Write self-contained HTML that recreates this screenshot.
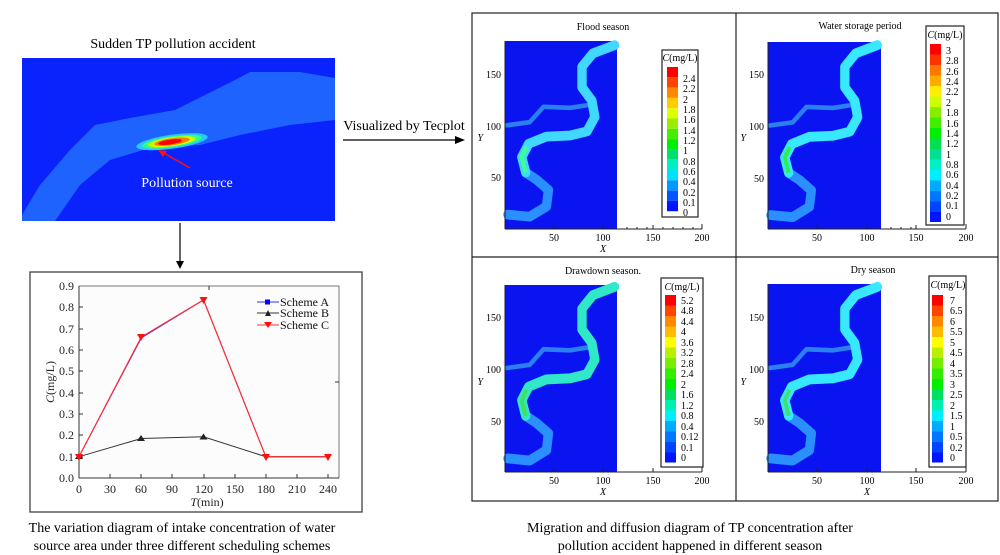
<!DOCTYPE html>
<html><head><meta charset="utf-8"><style>
html,body{margin:0;padding:0;background:#fff;}
svg{display:block;font-family:"Liberation Serif",serif;}
</style></head><body>
<svg width="1000" height="555" viewBox="0 0 1000 555" xmlns="http://www.w3.org/2000/svg">
<defs>
  <g id="riverLow">
    <polyline points="3,14 25,12 42,22 44,38 32,48 21,55" fill="none" stroke-width="9.5" stroke-linejoin="round" stroke-linecap="round"/>
  </g>
  <g id="trib">
    <polyline points="2,101 25,104 39,119 66,118 86,121" fill="none" stroke-width="4.5" stroke-linejoin="round" stroke-linecap="round"/>
  </g>
  <g id="riverUp">
    <polyline points="21,55 17,70 24,83 42,90 66,91 83,95 91,109 88,125 78,138 78,158 89,171 111,179" fill="none" stroke-width="9.5" stroke-linejoin="round" stroke-linecap="round"/>
  </g>
  <g id="yt" stroke="#222"><line x1="0" y1="0" x2="4" y2="0"/></g>
</defs>

<!-- Top-left image -->
<text x="173" y="48" font-size="14" text-anchor="middle">Sudden TP pollution accident</text>
<rect x="22" y="58" width="313" height="163" fill="#0a22fb"/>
<polygon points="22,221 22,215 40,185 70,150 95,125 130,118 175,110 235,80 250,72 300,72 335,78 335,120 290,125 240,135 200,145 150,148 110,160 80,185 55,221" fill="#1f63ff"/>
<g transform="rotate(-8 170 142)">
<ellipse cx="172" cy="142" rx="36" ry="7" fill="#28c8ff"/>
<ellipse cx="172" cy="142" rx="30" ry="5.5" fill="#30ff80"/>
<ellipse cx="172" cy="142" rx="24" ry="4.5" fill="#d0ff00"/>
<ellipse cx="172" cy="142" rx="18" ry="3.5" fill="#ff8000"/>
<ellipse cx="170" cy="142" rx="12" ry="2.5" fill="#ff0000"/>
</g>
<line x1="190" y1="168" x2="162" y2="152" stroke="#ff1010" stroke-width="1.5"/>
<polygon points="158,150 167,151 163,157" fill="#ff1010"/>
<text x="187" y="187" font-size="14" fill="#fff" text-anchor="middle">Pollution source</text>

<!-- arrows -->
<line x1="180" y1="223" x2="180" y2="264" stroke="#000" stroke-width="1.2"/>
<polygon points="176,261 184,261 180,269" fill="#000"/>
<text x="404" y="130" font-size="14" text-anchor="middle">Visualized by Tecplot</text>
<line x1="343" y1="140" x2="460" y2="140" stroke="#000" stroke-width="1.2"/>
<polygon points="455,136 465,140 455,144" fill="#000"/>

<!-- Left chart -->
<rect x="30" y="272" width="332" height="240" fill="#fff" stroke="#333" stroke-width="1.2"/>
<rect x="79" y="286" width="260" height="192" fill="#fcfcfc" stroke="#555" stroke-width="0.8"/>
<g stroke="#333" stroke-width="1">
<line x1="79" y1="286" x2="79" y2="478"/><line x1="79" y1="478" x2="339" y2="478"/>
</g>
<g font-size="12" text-anchor="end" fill="#222">
<text x="74" y="482">0.0</text><text x="74" y="461">0.1</text><text x="74" y="439">0.2</text><text x="74" y="418">0.3</text><text x="74" y="397">0.4</text><text x="74" y="375">0.5</text><text x="74" y="354">0.6</text><text x="74" y="333">0.7</text><text x="74" y="311">0.8</text><text x="74" y="290">0.9</text>
</g>
<g stroke="#333" stroke-width="1">
<line x1="79" y1="457" x2="83" y2="457"/><line x1="79" y1="435" x2="83" y2="435"/><line x1="79" y1="414" x2="83" y2="414"/><line x1="79" y1="393" x2="83" y2="393"/><line x1="79" y1="371" x2="83" y2="371"/><line x1="79" y1="350" x2="83" y2="350"/><line x1="79" y1="329" x2="83" y2="329"/><line x1="79" y1="307" x2="83" y2="307"/>
<line x1="110" y1="478" x2="110" y2="474"/><line x1="141" y1="478" x2="141" y2="474"/><line x1="172" y1="478" x2="172" y2="474"/><line x1="204" y1="478" x2="204" y2="474"/><line x1="235" y1="478" x2="235" y2="474"/><line x1="266" y1="478" x2="266" y2="474"/><line x1="297" y1="478" x2="297" y2="474"/><line x1="328" y1="478" x2="328" y2="474"/>
<line x1="209" y1="286" x2="209" y2="290"/><line x1="339" y1="382" x2="335" y2="382"/>
</g>
<g font-size="12" text-anchor="middle" fill="#222">
<text x="79" y="493">0</text><text x="110" y="493">30</text><text x="141" y="493">60</text><text x="172" y="493">90</text><text x="204" y="493">120</text><text x="235" y="493">150</text><text x="266" y="493">180</text><text x="297" y="493">210</text><text x="328" y="493">240</text>
<text x="207" y="506"><tspan font-style="italic">T</tspan>(min)</text>
<text x="0" y="0" transform="translate(54 382) rotate(-90)"><tspan font-style="italic">C</tspan>(mg/L)</text>
</g>
<polyline points="79,456.7 141.3,338 203.5,299.9 265.8,456.7 328,456.7" fill="none" stroke="#3030ff" stroke-width="1"/>
<polyline points="79,456.7 141.3,438.5 203.5,436.8 265.8,456.7 328,456.7" fill="none" stroke="#333" stroke-width="1"/>
<polyline points="79,456.7 141.3,337 203.5,299.9 265.8,456.7 328,456.7" fill="none" stroke="#ff3030" stroke-width="1.2"/>
<g fill="#222"><polygon points="141,435 145,441 137,441"/><polygon points="203.5,433.5 207.5,439.5 199.5,439.5"/><polygon points="79,453 83,459 75,459"/></g>
<g fill="#ff1010">
<polygon points="137,334 145,334 141,341"/><polygon points="199.5,297 207.5,297 203.5,304"/><polygon points="75,454 83,454 79,461"/><polygon points="262,454 270,454 266,461"/><polygon points="324,454 332,454 328,461"/>
</g>
<line x1="257" y1="302" x2="279" y2="302" stroke="#3030ff"/><rect x="265" y="299.5" width="5" height="5" fill="#0000ff"/>
<line x1="257" y1="313" x2="279" y2="313" stroke="#333"/><polygon points="268,310 271,316 265,316" fill="#222"/>
<line x1="257" y1="325" x2="279" y2="325" stroke="#ff3030"/><polygon points="264,322 272,322 268,328" fill="#ff1010"/>
<g font-size="12" fill="#111"><text x="280" y="306">Scheme A</text><text x="280" y="317">Scheme B</text><text x="280" y="329">Scheme C</text></g>

<text x="182" y="532" font-size="14" text-anchor="middle">The variation diagram of intake concentration of water</text>
<text x="182" y="550" font-size="14" text-anchor="middle">source area under three different scheduling schemes</text>
<text x="690" y="532" font-size="14" text-anchor="middle">Migration and diffusion diagram of TP concentration after</text>
<text x="690" y="550" font-size="14" text-anchor="middle">pollution accident happened in different season</text>

<!-- Right panels frame -->
<rect x="472" y="13" width="526" height="488" fill="none" stroke="#222" stroke-width="1.2"/>
<line x1="736" y1="13" x2="736" y2="501" stroke="#222" stroke-width="1.2"/>
<line x1="472" y1="257" x2="998" y2="257" stroke="#222" stroke-width="1.2"/>

<!-- Panel TL -->
<g>
<text x="603" y="30" font-size="10" text-anchor="middle">Flood season</text>
<rect x="505" y="41" width="112" height="188" fill="#0a14f0"/>
<g transform="translate(505 229) scale(0.987 -1.027)">
<use href="#trib" stroke="#2a80f0"/><use href="#riverLow" stroke="#2a90ff"/><use href="#riverUp" stroke="#40d8ff"/>
<polyline points="21,55 17,70 22,80" fill="none" stroke="#40ff90" stroke-width="4"/>
</g>
<line x1="505" y1="229" x2="702" y2="229" stroke="#222"/><line x1="505" y1="41" x2="505" y2="229" stroke="#222"/>
<g stroke="#222"><line x1="554" y1="229" x2="554" y2="225"/><line x1="603" y1="229" x2="603" y2="225"/><line x1="653" y1="229" x2="653" y2="225"/><line x1="702" y1="229" x2="702" y2="224"/>
<line x1="627" y1="229" x2="627" y2="227"/><line x1="637" y1="229" x2="637" y2="227"/><line x1="647" y1="229" x2="647" y2="227"/><line x1="663" y1="229" x2="663" y2="227"/><line x1="673" y1="229" x2="673" y2="227"/><line x1="683" y1="229" x2="683" y2="227"/><line x1="693" y1="229" x2="693" y2="227"/></g>
<g font-size="10" text-anchor="middle"><text x="554" y="241">50</text><text x="603" y="241">100</text><text x="653" y="241">150</text><text x="702" y="241">200</text><text x="603" y="252" font-style="italic">X</text></g>
<g font-size="10" text-anchor="end"><text x="501" y="78">150</text><text x="501" y="130">100</text><text x="501" y="181">50</text><text x="483" y="141" font-style="italic">Y</text></g>
</g>

<!-- Panel TR -->
<g>
<text x="860" y="29" font-size="10" text-anchor="middle">Water storage period</text>
<rect x="768" y="42" width="113" height="187" fill="#0a14f0"/>
<g transform="translate(768 229.5) scale(0.985 -1.03)">
<use href="#trib" stroke="#2a80f0"/><use href="#riverLow" stroke="#2a90ff"/><use href="#riverUp" stroke="#38e8ff"/>
<polyline points="21,55 17,70 22,80" fill="none" stroke="#30ee50" stroke-width="4"/>
</g>
<line x1="768" y1="229" x2="966" y2="229" stroke="#222"/><line x1="768" y1="42" x2="768" y2="229" stroke="#222"/>
<g stroke="#222"><line x1="817" y1="229" x2="817" y2="225"/><line x1="867" y1="229" x2="867" y2="225"/><line x1="916" y1="229" x2="916" y2="225"/><line x1="966" y1="229" x2="966" y2="224"/>
<line x1="891" y1="229" x2="891" y2="227"/><line x1="901" y1="229" x2="901" y2="227"/><line x1="911" y1="229" x2="911" y2="227"/></g>
<g font-size="10" text-anchor="middle"><text x="817" y="241">50</text><text x="867" y="241">100</text><text x="916" y="241">150</text><text x="966" y="241">200</text></g>
<g font-size="10" text-anchor="end"><text x="764" y="78">150</text><text x="764" y="130">100</text><text x="764" y="182">50</text><text x="746" y="141" font-style="italic">Y</text></g>
</g>

<!-- Panel BL -->
<g>
<text x="603" y="274" font-size="10" text-anchor="middle">Drawdown season.</text>
<rect x="505" y="285" width="112" height="187" fill="#0a14f0"/>
<g transform="translate(505 473) scale(0.987 -1.04)">
<use href="#trib" stroke="#2a80f0"/><use href="#riverLow" stroke="#2a90ff"/><use href="#riverUp" stroke="#30e8c8"/>
<polyline points="21,55 17,70 22,80" fill="none" stroke="#40e060" stroke-width="4"/>
</g>
<line x1="505" y1="472" x2="702" y2="472" stroke="#222"/><line x1="505" y1="285" x2="505" y2="472" stroke="#222"/>
<g stroke="#222"><line x1="554" y1="472" x2="554" y2="468"/><line x1="603" y1="472" x2="603" y2="468"/><line x1="653" y1="472" x2="653" y2="468"/><line x1="702" y1="472" x2="702" y2="467"/></g>
<g font-size="10" text-anchor="middle"><text x="554" y="484">50</text><text x="603" y="484">100</text><text x="653" y="484">150</text><text x="702" y="484">200</text><text x="603" y="495" font-style="italic">X</text></g>
<g font-size="10" text-anchor="end"><text x="501" y="321">150</text><text x="501" y="373">100</text><text x="501" y="425">50</text><text x="483" y="385" font-style="italic">Y</text></g>
</g>

<!-- Panel BR -->
<g>
<text x="873" y="273" font-size="10" text-anchor="middle">Dry season</text>
<rect x="768" y="284" width="113" height="188" fill="#0a14f0"/>
<g transform="translate(768 473) scale(0.985 -1.04)">
<use href="#trib" stroke="#2a80f0"/><use href="#riverLow" stroke="#2a90ff"/><use href="#riverUp" stroke="#38e8ff"/>
<polyline points="21,55 17,70 22,80" fill="none" stroke="#40e070" stroke-width="4"/>
</g>
<line x1="768" y1="472" x2="966" y2="472" stroke="#222"/><line x1="768" y1="284" x2="768" y2="472" stroke="#222"/>
<g stroke="#222"><line x1="817" y1="472" x2="817" y2="468"/><line x1="867" y1="472" x2="867" y2="468"/><line x1="916" y1="472" x2="916" y2="468"/><line x1="966" y1="472" x2="966" y2="467"/></g>
<g font-size="10" text-anchor="middle"><text x="817" y="484">50</text><text x="867" y="484">100</text><text x="916" y="484">150</text><text x="966" y="484">200</text><text x="867" y="495" font-style="italic">X</text></g>
<g font-size="10" text-anchor="end"><text x="764" y="321">150</text><text x="764" y="373">100</text><text x="764" y="425">50</text><text x="746" y="385" font-style="italic">Y</text></g>
</g>

<!-- Legends -->
<g>
<rect x="662" y="50" width="36" height="167" fill="#fff" stroke="#222" stroke-width="1.2"/>
<text x="680" y="61" font-size="10" text-anchor="middle"><tspan font-style="italic">C</tspan>(mg/L)</text>
<g>
<rect x="667" y="67" width="11" height="10.3" fill="#ff0000"/><rect x="667" y="77.3" width="11" height="10.3" fill="#ff4400"/><rect x="667" y="87.6" width="11" height="10.3" fill="#ff8800"/><rect x="667" y="97.9" width="11" height="10.3" fill="#ffcc00"/><rect x="667" y="108.2" width="11" height="10.3" fill="#ddff00"/><rect x="667" y="118.5" width="11" height="10.3" fill="#99ee00"/><rect x="667" y="128.8" width="11" height="10.3" fill="#44ee00"/><rect x="667" y="139.1" width="11" height="10.3" fill="#00ee00"/><rect x="667" y="149.4" width="11" height="10.3" fill="#00e070"/><rect x="667" y="159.7" width="11" height="10.3" fill="#00f0c0"/><rect x="667" y="170" width="11" height="10.3" fill="#00e0ff"/><rect x="667" y="180.3" width="11" height="10.3" fill="#0099ff"/><rect x="667" y="190.6" width="11" height="10.3" fill="#0055ff"/><rect x="667" y="200.9" width="11" height="10.3" fill="#0014ff"/>
</g>
<g font-size="10"><text x="683" y="82">2.4</text><text x="683" y="92">2.2</text><text x="683" y="103">2</text><text x="683" y="113">1.8</text><text x="683" y="123">1.6</text><text x="683" y="134">1.4</text><text x="683" y="144">1.2</text><text x="683" y="154">1</text><text x="683" y="165">0.8</text><text x="683" y="175">0.6</text><text x="683" y="185">0.4</text><text x="683" y="196">0.2</text><text x="683" y="206">0.1</text><text x="683" y="216">0</text></g>
</g>

<g>
<rect x="926" y="26" width="38" height="199" fill="#fff" stroke="#222" stroke-width="1.2"/>
<text x="945" y="38" font-size="10" text-anchor="middle"><tspan font-style="italic">C</tspan>(mg/L)</text>
<g>
<rect x="930" y="44" width="11" height="10.5" fill="#ff0000"/><rect x="930" y="54.5" width="11" height="10.5" fill="#ff3300"/><rect x="930" y="65" width="11" height="10.5" fill="#ff7700"/><rect x="930" y="75.5" width="11" height="10.5" fill="#ffaa00"/><rect x="930" y="86" width="11" height="10.5" fill="#ffee00"/><rect x="930" y="96.5" width="11" height="10.5" fill="#ccff00"/><rect x="930" y="107" width="11" height="10.5" fill="#88ee00"/><rect x="930" y="117.5" width="11" height="10.5" fill="#44ee00"/><rect x="930" y="128" width="11" height="10.5" fill="#00ee00"/><rect x="930" y="138.5" width="11" height="10.5" fill="#00e050"/><rect x="930" y="149" width="11" height="10.5" fill="#00e090"/><rect x="930" y="159.5" width="11" height="10.5" fill="#00f0c8"/><rect x="930" y="170" width="11" height="10.5" fill="#00eeff"/><rect x="930" y="180.5" width="11" height="10.5" fill="#00aaff"/><rect x="930" y="191" width="11" height="10.5" fill="#0077ff"/><rect x="930" y="201.5" width="11" height="10.5" fill="#0044ff"/><rect x="930" y="212" width="11" height="10" fill="#0014ff"/>
</g>
<g font-size="10"><text x="946" y="54">3</text><text x="946" y="64">2.8</text><text x="946" y="75">2.6</text><text x="946" y="85">2.4</text><text x="946" y="95">2.2</text><text x="946" y="106">2</text><text x="946" y="116">1.8</text><text x="946" y="127">1.6</text><text x="946" y="137">1.4</text><text x="946" y="147">1.2</text><text x="946" y="158">1</text><text x="946" y="168">0.8</text><text x="946" y="178">0.6</text><text x="946" y="189">0.4</text><text x="946" y="199">0.2</text><text x="946" y="209">0.1</text><text x="946" y="220">0</text></g>
</g>

<g>
<rect x="661" y="278" width="42" height="189" fill="#fff" stroke="#222" stroke-width="1.2"/>
<text x="682" y="290" font-size="10" text-anchor="middle"><tspan font-style="italic">C</tspan>(mg/L)</text>
<g>
<rect x="665" y="295" width="11" height="10.5" fill="#ff0000"/><rect x="665" y="305.5" width="11" height="10.5" fill="#ff4400"/><rect x="665" y="316" width="11" height="10.5" fill="#ff8800"/><rect x="665" y="326.5" width="11" height="10.5" fill="#ffbb00"/><rect x="665" y="337" width="11" height="10.5" fill="#ffff00"/><rect x="665" y="347.5" width="11" height="10.5" fill="#bbee00"/><rect x="665" y="358" width="11" height="10.5" fill="#77ee00"/><rect x="665" y="368.5" width="11" height="10.5" fill="#33ee00"/><rect x="665" y="379" width="11" height="10.5" fill="#00ee00"/><rect x="665" y="389.5" width="11" height="10.5" fill="#00e060"/><rect x="665" y="400" width="11" height="10.5" fill="#00f0b0"/><rect x="665" y="410.5" width="11" height="10.5" fill="#00eeff"/><rect x="665" y="421" width="11" height="10.5" fill="#00aaff"/><rect x="665" y="431.5" width="11" height="10.5" fill="#0077ff"/><rect x="665" y="442" width="11" height="10.5" fill="#0044ff"/><rect x="665" y="452.5" width="11" height="10" fill="#0014ff"/>
</g>
<g font-size="10"><text x="681" y="304">5.2</text><text x="681" y="314">4.8</text><text x="681" y="325">4.4</text><text x="681" y="335">4</text><text x="681" y="346">3.6</text><text x="681" y="356">3.2</text><text x="681" y="367">2.8</text><text x="681" y="377">2.4</text><text x="681" y="388">2</text><text x="681" y="398">1.6</text><text x="681" y="409">1.2</text><text x="681" y="419">0.8</text><text x="681" y="430">0.4</text><text x="681" y="440">0.12</text><text x="681" y="451">0.1</text><text x="681" y="461">0</text></g>
</g>

<g>
<rect x="929" y="276" width="37" height="191" fill="#fff" stroke="#222" stroke-width="1.2"/>
<text x="948" y="288" font-size="10" text-anchor="middle"><tspan font-style="italic">C</tspan>(mg/L)</text>
<g>
<rect x="932" y="295" width="11" height="10.5" fill="#ff0000"/><rect x="932" y="305.5" width="11" height="10.5" fill="#ff4400"/><rect x="932" y="316" width="11" height="10.5" fill="#ff8800"/><rect x="932" y="326.5" width="11" height="10.5" fill="#ffbb00"/><rect x="932" y="337" width="11" height="10.5" fill="#ffff00"/><rect x="932" y="347.5" width="11" height="10.5" fill="#bbee00"/><rect x="932" y="358" width="11" height="10.5" fill="#77ee00"/><rect x="932" y="368.5" width="11" height="10.5" fill="#33ee00"/><rect x="932" y="379" width="11" height="10.5" fill="#00ee00"/><rect x="932" y="389.5" width="11" height="10.5" fill="#00e060"/><rect x="932" y="400" width="11" height="10.5" fill="#00f0b0"/><rect x="932" y="410.5" width="11" height="10.5" fill="#00eeff"/><rect x="932" y="421" width="11" height="10.5" fill="#00aaff"/><rect x="932" y="431.5" width="11" height="10.5" fill="#0077ff"/><rect x="932" y="442" width="11" height="10.5" fill="#0044ff"/><rect x="932" y="452.5" width="11" height="10" fill="#0014ff"/>
</g>
<g font-size="10"><text x="950" y="304">7</text><text x="950" y="314">6.5</text><text x="950" y="325">6</text><text x="950" y="335">5.5</text><text x="950" y="346">5</text><text x="950" y="356">4.5</text><text x="950" y="367">4</text><text x="950" y="377">3.5</text><text x="950" y="388">3</text><text x="950" y="398">2.5</text><text x="950" y="409">2</text><text x="950" y="419">1.5</text><text x="950" y="430">1</text><text x="950" y="440">0.5</text><text x="950" y="451">0.2</text><text x="950" y="461">0</text></g>
</g>
</svg>
</body></html>
